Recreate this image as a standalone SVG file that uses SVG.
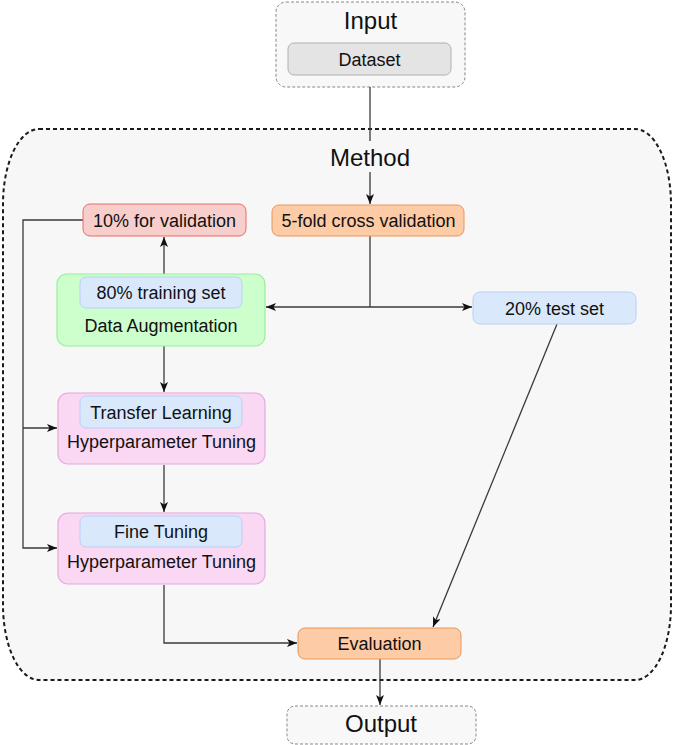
<svg xmlns="http://www.w3.org/2000/svg" width="674" height="745" viewBox="0 0 674 745">
<style>
text{font-family:"Liberation Sans",Arial,sans-serif;fill:#111;text-anchor:middle}
.t18{font-size:18px}
.t24{font-size:24px}
.edge{fill:none;stroke:#3a3a3a;stroke-width:1.3}
.blue{fill:#dae8fc;stroke:#b9d0f5;stroke-width:1}
.orange{fill:#fdcba5;stroke:#e8965a;stroke-width:1}
.pink{fill:#fad7f3;stroke:#e6a8e0;stroke-width:1.2}
.io{fill:#f8f8f8;stroke:#888;stroke-width:1;stroke-dasharray:3 2}
</style>
<defs>
<marker id="ah" markerWidth="11" markerHeight="8" refX="10" refY="4" orient="auto-start-reverse" markerUnits="userSpaceOnUse">
<path d="M0,0 L10,4 L0,8 L2.5,4 Z" fill="#111"/>
</marker>
</defs>
<g id="method">
<path d="M39 129 H635 A36 75 0 0 1 671 204 V605 A36 75 0 0 1 635 680 H39 A36 75 0 0 1 3 605 V204 A36 75 0 0 1 39 129 Z" fill="#f7f7f7" stroke="#1a1a1a" stroke-width="2" stroke-dasharray="4 3"/>
<text class="t24" x="370" y="165.5">Method</text>
</g>
<g id="input">
<rect class="io" x="276" y="2" width="189" height="85" rx="10"/>
<text class="t24" x="370.5" y="28.5">Input</text>
<rect x="288" y="43" width="163" height="32" rx="6" fill="#e4e4e4" stroke="#b0b0b0"/>
<text class="t18" x="369.5" y="65.5">Dataset</text>
</g>
<g id="connectors">
<path class="edge" d="M370 87 V141 M370 172 V204" marker-end="url(#ah)"/>
<path class="edge" d="M164 274 V237" marker-end="url(#ah)"/>
<path class="edge" d="M370 236 V307"/>
<path class="edge" d="M266 307 H472" marker-start="url(#ah)" marker-end="url(#ah)"/>
<path class="edge" d="M83 220 H23 V548 H57" marker-end="url(#ah)"/>
<path class="edge" d="M23 428 H57" marker-end="url(#ah)"/>
<path class="edge" d="M164 346 V392" marker-end="url(#ah)"/>
<path class="edge" d="M164 465 V512" marker-end="url(#ah)"/>
<path class="edge" d="M164 585 V643 H297" marker-end="url(#ah)"/>
<path class="edge" d="M557 324 L433 627" marker-end="url(#ah)"/>
<path class="edge" d="M380 659 V705" marker-end="url(#ah)"/>
</g>
<g id="validation">
<rect x="83" y="204" width="163" height="32" rx="7" fill="#f8cecc" stroke="#ea6b66"/>
<text class="t18" x="164.5" y="226.5">10% for validation</text>
</g>
<g id="crossval">
<rect class="orange" x="272" y="205" width="192" height="31" rx="7"/>
<text class="t18" x="368.5" y="227">5-fold cross validation</text>
</g>
<g id="augmentation">
<rect x="57" y="274" width="208" height="72" rx="10" fill="#ccffcc" stroke="#99ee99" stroke-width="1.2"/>
<rect class="blue" x="80" y="277" width="162" height="31" rx="6"/>
<text class="t18" x="161" y="299">80% training set</text>
<text class="t18" x="161" y="331.5">Data Augmentation</text>
</g>
<g id="testset">
<rect class="blue" x="473" y="292" width="163" height="32" rx="7"/>
<text class="t18" x="554.5" y="314.5">20% test set</text>
</g>
<g id="transfer">
<rect class="pink" x="58" y="393" width="207" height="71" rx="10"/>
<rect class="blue" x="80" y="396" width="162" height="32" rx="6"/>
<text class="t18" x="161" y="418.5">Transfer Learning</text>
<text class="t18" x="161.5" y="447.5">Hyperparameter Tuning</text>
</g>
<g id="finetuning">
<rect class="pink" x="58" y="513" width="207" height="71" rx="10"/>
<rect class="blue" x="80" y="516" width="162" height="31" rx="6"/>
<text class="t18" x="161" y="538">Fine Tuning</text>
<text class="t18" x="161.5" y="567.5">Hyperparameter Tuning</text>
</g>
<g id="evaluation">
<rect class="orange" x="298" y="628" width="163" height="31" rx="7"/>
<text class="t18" x="379.5" y="650">Evaluation</text>
</g>
<g id="output">
<rect class="io" x="287" y="706" width="189" height="38" rx="8"/>
<text class="t24" x="381" y="732">Output</text>
</g>
</svg>
